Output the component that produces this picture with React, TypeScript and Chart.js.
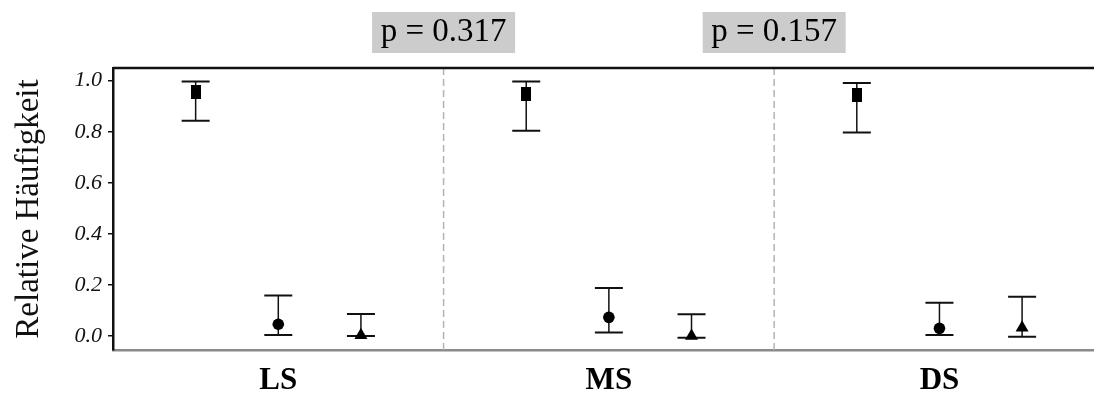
import React, { useEffect, useRef } from "react";
import { Chart, registerables } from "chart.js";

Chart.register(...registerables);

// Groups along the x axis
const categories = ["LS", "MS", "DS"];

// Square series: mean with lower / upper interval
const squareMean = [0.954, 0.947, 0.943];
const squareLow = [0.843, 0.804, 0.797];
const squareHigh = [0.997, 0.997, 0.991];

// Circle series
const circleMean = [0.046, 0.073, 0.03];
const circleLow = [0.004, 0.014, 0.004];
const circleHigh = [0.159, 0.188, 0.13];

// Triangle series
const triangleMean = [0.003, 0.0, 0.032];
const triangleLow = [0.0, -0.007, -0.003];
const triangleHigh = [0.086, 0.085, 0.154];

// Test results shown above the group boundaries
const pValues = ["p = 0.317", "p = 0.157"];

const yTicks = [0, 0.2, 0.4, 0.6, 0.8, 1.0];

const SERIF = "'Liberation Serif', 'Times New Roman', serif";

// each group occupies 4 units on the x axis, markers at offsets 1, 2, 3
const GROUP_SPAN = 4;

function buildPoints(mean: number[], low: number[], high: number[], slot: number) {
  return categories.map((_, g) => ({
    x: g * GROUP_SPAN + slot,
    y: mean[g],
    low: low[g],
    high: high[g],
  }));
}

function makeRectMarker(): HTMLCanvasElement {
  const c = document.createElement("canvas");
  c.width = 10;
  c.height = 14;
  const cx = c.getContext("2d")!;
  cx.fillStyle = "#000";
  cx.fillRect(0, 0, 10, 14);
  return c;
}

const errorBarPlugin = {
  id: "errorBars",
  beforeDatasetsDraw(chart: any) {
    const { ctx, scales } = chart;
    const xs = scales.x;
    const ys = scales.y;
    const capHalf = 14;
    ctx.save();
    ctx.strokeStyle = "#111";
    chart.data.datasets.forEach((ds: any) => {
      ds.data.forEach((p: any) => {
        const px = xs.getPixelForValue(p.x);
        const top = ys.getPixelForValue(p.high);
        const bot = ys.getPixelForValue(p.low);
        ctx.lineWidth = 1.5;
        ctx.beginPath();
        ctx.moveTo(px, top);
        ctx.lineTo(px, bot);
        ctx.stroke();
        ctx.lineWidth = 2;
        ctx.beginPath();
        ctx.moveTo(px - capHalf, top);
        ctx.lineTo(px + capHalf, top);
        ctx.moveTo(px - capHalf, bot);
        ctx.lineTo(px + capHalf, bot);
        ctx.stroke();
      });
    });
    ctx.restore();
  },
};

const framePlugin = {
  id: "frame",
  beforeDatasetsDraw(chart: any) {
    const { ctx, chartArea, scales } = chart;
    const xs = scales.x;
    ctx.save();
    // dashed separators between groups
    ctx.strokeStyle = "#b4b4b4";
    ctx.lineWidth = 1.5;
    ctx.setLineDash([7, 4]);
    for (let g = 1; g < categories.length; g++) {
      const px = xs.getPixelForValue(g * GROUP_SPAN);
      ctx.beginPath();
      ctx.moveTo(px, chartArea.top);
      ctx.lineTo(px, chartArea.bottom);
      ctx.stroke();
    }
    ctx.setLineDash([]);
    // top frame line
    ctx.strokeStyle = "#111";
    ctx.lineWidth = 2.5;
    ctx.beginPath();
    ctx.moveTo(chartArea.left, chartArea.top);
    ctx.lineTo(chart.width, chartArea.top);
    ctx.stroke();
    ctx.restore();
  },
  afterDraw(chart: any) {
    const { ctx, scales } = chart;
    const xs = scales.x;
    ctx.save();
    ctx.font = `33px ${SERIF}`;
    ctx.textAlign = "center";
    ctx.textBaseline = "alphabetic";
    pValues.forEach((label, i) => {
      const cx = xs.getPixelForValue((i + 1) * GROUP_SPAN);
      const w = 143;
      const h = 41;
      ctx.fillStyle = "#cccccc";
      ctx.fillRect(cx - w / 2, 12, w, h);
      ctx.fillStyle = "#000";
      ctx.fillText(label, cx, 41);
    });
    ctx.restore();
  },
};

export default function App() {
  const canvasRef = useRef<HTMLCanvasElement | null>(null);

  useEffect(() => {
    const canvas = canvasRef.current;
    if (!canvas) return;
    const rect = makeRectMarker();

    const chart = new Chart(canvas, {
      type: "scatter",
      data: {
        datasets: [
          {
            label: "square",
            data: buildPoints(squareMean, squareLow, squareHigh, 1),
            pointStyle: rect as any,
            backgroundColor: "#000",
            borderColor: "#000",
            borderWidth: 0,
            pointRadius: 7,
          },
          {
            label: "circle",
            data: buildPoints(circleMean, circleLow, circleHigh, 2),
            pointStyle: "circle",
            backgroundColor: "#000",
            borderColor: "#000",
            borderWidth: 0,
            pointRadius: 5.8,
          },
          {
            label: "triangle",
            data: buildPoints(triangleMean, triangleLow, triangleHigh, 3),
            pointStyle: "triangle",
            backgroundColor: "#000",
            borderColor: "#000",
            borderWidth: 0,
            pointRadius: 7.5,
          },
        ] as any,
      },
      options: {
        responsive: false,
        animation: false,
        events: [],
        layout: { autoPadding: false, padding: { top: 68, left: 0, right: 0, bottom: 0 } },
        plugins: {
          legend: { display: false },
          tooltip: { enabled: false },
          title: { display: false },
        },
        scales: {
          x: {
            type: "linear",
            min: 0,
            max: 11.87,
            grid: { display: false },
            border: { display: true, color: "#8a8a8a", width: 2.5 },
            afterBuildTicks: (scale: any) => {
              scale.ticks = categories.map((_, g) => ({ value: g * GROUP_SPAN + 2 }));
            },
            afterFit: (scale: any) => {
              scale.height = 44;
              scale.paddingLeft = 0;
              scale.paddingRight = 0;
            },
            ticks: {
              autoSkip: false,
              maxRotation: 0,
              padding: 4,
              color: "#000",
              font: { family: SERIF, size: 31, weight: "bold" },
              callback: (value: any) => {
                const idx = Math.round((Number(value) - 2) / GROUP_SPAN);
                return categories[idx] ?? "";
              },
            },
          },
          y: {
            type: "linear",
            min: -0.0548,
            max: 1.0497,
            afterBuildTicks: (scale: any) => {
              scale.ticks = yTicks.map((v) => ({ value: v }));
            },
            afterFit: (scale: any) => {
              scale.width = 113;
              scale.paddingTop = 0;
              scale.paddingBottom = 0;
            },
            grid: {
              display: true,
              drawOnChartArea: false,
              drawTicks: true,
              tickLength: 5,
              color: "#111",
              lineWidth: 1.5,
            },
            border: { display: true, color: "#111", width: 2.5 },
            ticks: {
              padding: 6,
              color: "#111",
              font: { family: SERIF, size: 22, style: "italic" },
              callback: (value: any) => Number(value).toFixed(1),
            },
            title: {
              display: true,
              text: "Relative Häufigkeit",
              color: "#111",
              font: { family: SERIF, size: 33 },
              padding: { top: 10, bottom: 0 },
            },
          },
        },
      },
      plugins: [errorBarPlugin, framePlugin],
    });

    return () => chart.destroy();
  }, []);

  return (
    <div style={{ position: "absolute", left: 0, top: 0, width: 1094, height: 394, background: "#fff" }}>
      <canvas ref={canvasRef} width={1094} height={394} style={{ display: "block" }} />
    </div>
  );
}
